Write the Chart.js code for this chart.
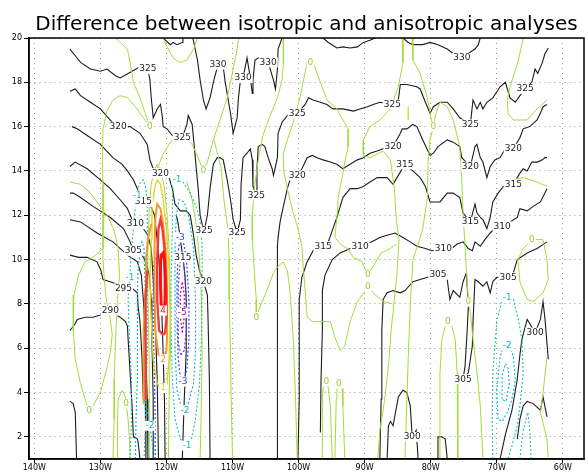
<!DOCTYPE html>
<html>
<head>
<meta charset="utf-8">
<script src="https://cdn.jsdelivr.net/npm/chart.js@4.4.1/dist/chart.umd.min.js"></script>
<style>
  html, body { margin: 0; padding: 0; background: #fff; }
  #wrap { width: 588px; height: 475px; }
</style>
</head>
<body>
<div id="wrap"><canvas id="diffChart"></canvas></div>
<script>
// 축 눈금 (경도 W, 위도)
const lonTicks = [-140, -130, -120, -110, -100, -90, -80, -70, -60];
const latTicks = [2, 4, 6, 8, 10, 12, 14, 16, 18, 20];

// 온위 등치선 (검정) [경도, 위도]
const th325 = [[-134.6,19.5],[-133.8,19.2],[-133.0,18.9],[-131.5,18.6],[-130.0,18.5],[-129.0,18.6],[-127.7,18.3],[-127.0,18.2],[-125.8,18.4],[-124.6,18.6],[-124.0,18.7],[-122.8,18.6],[-122.5,18.1],[-122.3,17.3],[-122.0,16.4],[-121.4,16.8],[-120.9,17.0],[-120.6,16.4],[-120.5,16.0],[-119.9,15.9],[-119.1,15.6],[-117.6,15.5],[-116.9,16.1],[-116.7,16.5],[-116.1,16.1],[-115.6,14.5],[-115.2,13.2],[-114.9,12.0],[-114.6,11.6],[-114.3,11.3],[-113.8,12.0],[-113.4,13.2],[-112.9,14.3],[-112.3,14.6],[-111.9,14.6],[-111.4,14.5],[-110.8,13.6],[-110.3,12.7],[-109.9,11.8],[-109.3,11.2],[-108.8,11.8],[-108.7,13.4],[-108.4,14.6],[-107.8,14.8],[-107.3,15.0],[-107.0,14.5],[-106.9,13.3],[-106.4,12.9],[-106.3,14.1],[-106.1,15.1],[-105.5,15.2],[-105.1,15.1],[-104.6,14.6],[-104.0,14.1],[-103.8,13.8],[-103.2,14.6],[-103.1,15.7],[-102.5,16.2],[-101.7,16.5],[-101.3,16.6],[-100.2,16.6],[-99.0,17.0],[-98.5,17.3],[-97.8,17.2],[-96.7,17.1],[-95.7,17.0],[-94.8,16.8],[-93.3,16.8],[-91.7,16.7],[-90.7,16.8],[-89.6,16.9],[-88.7,17.0],[-87.7,17.1],[-85.8,17.0],[-84.9,17.2],[-84.6,17.9],[-83.6,17.9],[-82.1,17.8],[-81.6,17.7],[-80.8,17.1],[-80.1,16.6],[-79.6,16.9],[-78.6,17.1],[-77.5,17.1],[-76.6,16.8],[-75.6,16.4],[-74.0,16.1],[-73.6,17.2],[-73.0,16.8],[-72.5,17.1],[-72.1,16.8],[-71.5,17.1],[-70.6,17.3],[-69.5,17.8],[-68.7,18.0],[-68.0,17.3],[-67.2,17.1],[-66.5,17.4],[-65.7,17.7],[-64.7,18.0],[-64.2,18.6],[-63.8,18.4],[-63.1,18.9],[-62.7,19.3],[-62.2,19.55]];
const th330a = [[-120.5,20.0],[-119.4,19.7],[-119.0,19.8],[-118.4,19.7],[-117.6,19.8],[-117.5,20.0]];
const th330b = [[-116.0,20.0],[-115.3,19.0],[-114.9,18.1],[-114.4,17.2],[-114.0,16.8],[-113.4,17.3],[-112.9,18.0],[-112.2,18.8],[-111.4,18.7],[-111.1,18.0],[-110.3,16.6],[-109.9,15.7],[-109.3,16.4],[-109.1,17.3],[-108.8,18.1],[-108.4,18.2],[-107.8,19.1],[-107.3,18.2],[-107.0,17.5],[-106.9,18.1],[-106.6,19.0],[-106.1,19.1],[-104.6,18.9],[-103.8,18.1],[-103.5,17.7],[-103.2,18.6],[-103.1,19.5],[-102.5,20.0]];
const th330c = [[-96.3,20.0],[-95.5,19.8],[-94.2,19.55],[-93.3,19.6],[-92.2,19.55],[-91.1,19.6],[-90.2,19.8],[-89.2,19.9],[-88.4,20.0]];
const th330d = [[-84.2,20.0],[-83.4,19.8],[-82.7,19.7],[-81.2,19.7],[-80.1,19.8],[-78.9,19.7],[-77.5,19.5],[-76.6,19.3],[-75.3,19.1],[-73.3,19.5],[-72.8,19.7],[-72.5,20.0]];
const th320a = [[-134.6,17.6],[-133.8,17.7],[-133.0,17.4],[-131.5,17.1],[-130.0,16.8],[-128.8,16.4],[-128.2,16.2],[-127.3,16.0],[-125.5,16.0],[-124.0,15.7],[-122.9,15.2],[-122.5,14.5],[-122.0,14.1],[-120.9,13.9],[-119.7,13.8],[-119.1,13.2],[-118.7,12.5],[-117.9,12.2],[-117.0,12.2],[-116.4,12.0],[-115.9,11.1],[-115.5,10.2],[-115.0,9.5],[-114.4,9.0],[-113.8,8.4],[-113.7,7.3],[-113.5,4.6],[-113.4,1.0]];
const th320b = [[-103.2,1.0],[-103.2,3.7],[-103.2,8.2],[-103.2,10.6],[-103.1,11.0],[-102.8,11.7],[-102.3,12.4],[-101.7,13.2],[-101.3,13.6],[-100.2,13.8],[-99.5,14.1],[-98.7,14.6],[-97.9,14.7],[-97.2,14.6],[-96.3,14.5],[-95.2,14.4],[-94.2,14.3],[-93.3,14.1],[-92.2,14.3],[-91.1,14.5],[-90.2,14.6],[-89.2,14.8],[-88.1,14.9],[-87.2,15.0],[-85.7,15.1],[-84.6,15.7],[-84.3,15.9],[-83.6,15.9],[-82.7,16.1],[-82.1,16.0],[-81.2,15.4],[-80.1,14.7],[-79.6,14.8],[-78.9,15.1],[-77.5,15.4],[-76.6,15.3],[-75.6,15.1],[-75.3,14.6],[-74.0,14.2],[-73.3,15.1],[-73.0,15.2],[-72.5,14.6],[-72.1,14.4],[-71.5,13.7],[-71.0,14.2],[-70.3,14.5],[-69.5,14.6],[-68.7,15.0],[-67.5,15.0],[-66.5,15.5],[-66.0,15.9],[-65.0,16.0],[-63.9,16.3],[-63.4,16.6],[-63.0,16.9],[-62.4,17.0]];
const th315a = [[-134.3,16.0],[-133.5,15.9],[-132.0,15.6],[-130.0,15.2],[-128.1,14.6],[-126.7,14.3],[-125.9,14.0],[-125.0,13.6],[-124.4,13.2],[-124.0,12.8],[-123.5,12.6],[-122.5,12.5],[-121.8,12.0],[-121.4,10.9],[-120.9,9.1],[-120.6,6.8],[-120.3,3.7],[-120.2,1.0]];
const th315b = [[-118.5,12.0],[-118.2,11.6],[-117.9,10.9],[-117.5,10.1],[-117.2,9.3],[-117.0,8.2],[-117.0,5.9],[-117.3,3.7],[-117.6,1.0]];
const th315c = [[-100.1,1.0],[-99.9,3.7],[-99.9,6.4],[-99.9,8.2],[-99.5,9.2],[-98.7,9.9],[-97.8,10.4],[-96.3,10.6],[-95.5,10.8],[-94.8,11.4],[-94.2,11.9],[-93.7,12.4],[-93.3,12.8],[-92.2,13.2],[-91.1,13.2],[-90.2,13.3],[-89.2,13.5],[-88.1,13.7],[-87.7,13.7],[-86.6,13.7],[-85.7,13.4],[-84.9,13.8],[-83.9,14.3],[-82.7,14.0],[-81.6,13.7],[-80.8,13.3],[-80.1,12.6],[-79.3,12.6],[-78.6,12.6],[-77.5,13.0],[-76.6,13.0],[-75.6,12.8],[-75.1,12.1],[-74.0,11.7],[-73.3,12.5],[-73.0,12.1],[-72.5,11.9],[-72.1,11.8],[-71.5,11.4],[-71.0,11.9],[-70.6,12.6],[-69.8,13.0],[-69.0,13.3],[-67.5,13.4],[-66.5,13.9],[-66.0,14.1],[-65.4,14.0],[-64.7,14.4],[-63.9,14.4],[-63.1,14.5],[-62.7,14.6],[-62.4,14.6]];
const th310a = [[-134.6,14.2],[-133.8,14.4],[-132.0,14.1],[-130.0,13.6],[-128.5,13.2],[-127.0,12.7],[-125.9,12.3],[-125.2,11.8],[-124.7,11.6],[-123.5,11.4],[-122.8,11.1],[-122.3,10.5],[-122.0,9.1],[-121.7,7.3],[-121.4,4.6],[-121.2,1.0]];
const th310b = [[-96.7,2.2],[-96.6,4.6],[-96.4,6.8],[-96.4,8.6],[-96.0,9.3],[-94.9,10.0],[-93.7,10.3],[-92.2,10.5],[-90.7,10.6],[-88.9,10.8],[-87.7,11.0],[-86.6,11.1],[-85.4,11.2],[-84.2,11.0],[-83.1,10.8],[-82.1,10.6],[-80.8,10.5],[-79.8,10.4],[-78.1,10.5],[-76.8,10.5],[-76.0,10.7],[-75.1,10.8],[-74.3,10.5],[-73.7,10.4],[-73.3,10.8],[-72.5,10.6],[-71.8,10.9],[-71.0,11.2],[-70.3,11.4],[-69.2,11.5],[-68.0,11.7],[-66.9,11.9],[-66.5,12.3],[-65.4,12.2],[-64.5,12.4],[-63.4,12.6],[-62.4,13.2]];
const th305a = [[-134.6,13.0],[-134.1,13.0],[-133.0,12.8],[-131.1,12.4],[-128.5,11.9],[-126.5,11.4],[-125.5,10.8],[-125.0,10.4],[-123.7,10.2],[-123.1,9.9],[-122.6,9.3],[-122.3,8.2],[-122.2,6.4],[-122.0,3.7],[-122.0,1.0]];
const th305b = [[-87.7,1.0],[-87.5,3.7],[-87.4,6.8],[-87.2,8.2],[-86.6,8.5],[-85.7,8.6],[-84.6,8.5],[-83.9,8.6],[-82.7,9.0],[-81.6,9.1],[-80.5,9.2],[-78.9,9.3],[-77.5,9.1],[-77.1,8.2],[-76.6,8.6],[-75.6,8.3],[-75.1,9.0],[-74.6,9.4],[-74.3,7.9],[-74.5,6.7],[-74.8,5.2],[-75.1,4.6],[-74.3,4.9],[-73.7,6.1],[-73.6,7.2],[-73.3,9.1],[-72.8,9.0],[-72.1,8.8],[-71.5,9.0],[-71.0,8.5],[-70.6,9.0],[-70.0,9.2],[-68.3,9.2],[-67.5,9.4],[-66.9,10.0],[-65.4,10.3],[-63.9,10.5],[-62.4,10.8]];
const th300a = [[-134.6,11.8],[-133.0,11.7],[-130.5,11.2],[-128.1,10.8],[-125.9,10.2],[-124.4,9.9],[-123.8,9.3],[-123.5,8.2],[-123.2,6.4],[-122.9,3.7],[-122.8,1.0]];
const th300b = [[-69.5,1.0],[-68.7,2.1],[-67.7,3.2],[-66.9,4.6],[-66.5,5.7],[-66.2,6.4],[-65.4,7.3],[-65.0,7.1],[-64.2,6.7],[-63.4,7.3],[-63.0,8.1],[-62.7,7.3],[-62.4,6.2],[-62.2,5.5]];
const th300c = [[-66.9,1.9],[-66.5,2.8],[-66.0,3.4],[-65.4,3.6],[-64.5,3.5],[-63.4,3.2],[-63.0,3.8],[-62.4,2.9]];
const th300d = [[-86.6,1.0],[-86.4,2.5],[-86.1,2.7],[-85.7,2.5],[-84.9,3.8],[-84.2,4.1],[-83.6,4.0],[-83.1,3.4],[-82.8,2.0],[-82.2,2.3],[-81.9,1.0]];
const th300e = [[-79.0,1.0],[-78.9,2.0],[-78.3,2.0],[-77.8,1.9],[-77.5,1.0]];
const th295 = [[-134.6,10.2],[-133.3,10.1],[-132.0,10.1],[-130.5,9.9],[-129.9,9.5],[-129.6,9.1],[-128.5,9.0],[-127.6,8.9],[-126.5,8.7],[-125.2,8.7],[-124.4,8.5],[-124.3,7.9],[-124.0,7.2],[-123.7,5.6],[-123.5,3.7],[-123.2,3.6],[-123.1,2.5],[-123.1,1.0]];
const th290 = [[-134.6,6.8],[-133.8,7.1],[-133.5,7.3],[-132.3,7.4],[-131.1,7.4],[-130.0,7.5],[-128.5,7.7],[-127.0,7.4],[-126.2,7.2],[-125.9,7.0],[-125.8,6.4],[-125.5,4.9],[-125.2,3.4],[-125.0,2.0],[-124.4,1.9],[-124.3,1.8],[-124.0,1.0]];
const th290b = [[-134.6,3.6],[-134.1,3.5],[-133.8,3.1],[-133.6,1.0]];

// 차이 0 등치선 (연두)
const zeroA = [[-127.7,20.0],[-127.0,19.8],[-125.9,19.5],[-125.5,18.9],[-125.0,18.0],[-124.0,17.3],[-123.2,16.6],[-122.5,16.0],[-123.5,16.4],[-124.7,16.9],[-125.9,17.3],[-127.0,17.4],[-128.1,17.2],[-129.0,16.7],[-129.6,15.9],[-129.7,14.5],[-129.6,13.4],[-129.6,12.3],[-129.6,11.4],[-129.6,10.5],[-131.1,10.1],[-132.3,9.9],[-133.3,9.3],[-134.0,8.4],[-134.1,6.8],[-133.8,5.5],[-133.0,4.4],[-132.1,3.5],[-131.7,3.2],[-131.1,3.4],[-130.0,4.0],[-129.1,5.0],[-128.5,5.8],[-128.2,6.6],[-128.5,7.3],[-129.1,8.2],[-129.4,9.1],[-129.6,10.0],[-129.6,10.5]];
const zeroB = [[-134.6,13.5],[-133.0,13.4],[-131.5,13.0],[-130.0,12.4],[-128.8,11.9],[-127.9,11.3],[-127.3,10.5],[-127.1,9.3],[-127.4,8.2],[-127.7,6.4],[-127.9,4.6],[-127.9,2.8],[-128.1,1.0]];
const zeroC = [[-127.4,1.0],[-127.4,2.8],[-127.3,3.7],[-126.7,4.1],[-126.2,3.8],[-126.1,3.5],[-125.8,2.8],[-125.6,1.9],[-125.5,1.0]];
const zeroD = [[-121.4,14.1],[-120.6,14.7],[-119.4,15.3],[-118.4,15.5],[-117.2,15.5],[-116.1,15.2],[-115.2,14.6],[-114.4,14.0],[-113.8,14.4],[-112.9,15.4],[-111.9,16.3],[-110.8,17.3],[-109.9,18.6],[-109.3,19.5],[-109.1,20.0]];
const zeroE = [[-112.8,15.4],[-112.2,14.7],[-111.7,14.1],[-111.3,12.7],[-110.7,11.4],[-110.5,10.0],[-110.5,8.2],[-110.3,5.9],[-110.2,3.7],[-110.0,1.0]];
const zeroF = [[-102.3,20.0],[-102.3,18.8],[-102.5,18.1],[-103.2,17.3],[-104.3,16.5],[-105.4,15.6],[-106.1,14.5],[-106.7,13.2],[-107.0,12.0],[-107.0,10.9],[-106.7,9.5],[-106.4,8.2],[-106.4,7.4],[-105.8,7.9],[-104.8,8.6],[-103.8,9.4],[-103.1,9.7],[-102.3,9.9],[-101.7,9.5],[-101.3,8.6],[-100.8,6.4],[-100.5,4.1],[-100.2,1.0]];
const zeroG = [[-120.5,20.0],[-119.9,19.6],[-119.0,19.1],[-117.9,18.9],[-116.9,19.0],[-115.9,19.5],[-115.3,20.0]];
const zeroH = [[-89.5,8.8],[-89.9,8.6],[-91.1,8.1],[-92.2,7.2],[-93.0,6.1],[-93.7,5.9],[-94.5,6.5],[-95.2,7.2],[-96.3,7.2],[-97.9,7.2],[-98.7,7.4],[-99.0,8.6],[-99.3,9.7],[-99.5,10.6],[-100.1,11.4],[-100.8,12.1],[-101.7,13.2],[-102.3,14.1],[-102.3,14.8],[-101.7,15.4],[-100.8,16.2],[-99.8,17.3],[-98.7,18.9],[-98.2,18.9],[-97.8,18.9],[-96.7,18.0],[-95.7,17.2],[-94.2,16.8],[-93.3,16.3],[-92.5,15.9],[-92.5,15.1],[-93.0,14.4],[-93.4,13.7],[-94.0,12.8],[-94.2,11.9],[-94.5,11.0],[-93.7,10.7],[-92.6,10.5],[-91.7,10.1],[-90.4,9.9],[-89.5,9.3]];
const zeroI = [[-89.5,9.3],[-88.7,9.7],[-87.5,10.3],[-86.1,10.5],[-85.2,10.7]];
const zeroJ = [[-89.5,8.8],[-88.4,8.4],[-87.1,8.1],[-85.8,8.0]];
const zeroK = [[-82.8,20.0],[-82.7,19.0],[-81.6,18.4],[-80.5,17.3],[-79.9,16.3],[-79.6,16.0],[-80.1,15.4],[-80.4,14.4],[-80.5,12.8],[-81.2,11.4],[-81.9,10.7],[-82.7,10.0],[-83.1,7.9],[-83.4,5.6],[-83.6,3.7],[-83.9,1.0]];
const zeroL = [[-84.3,20.0],[-84.2,18.9],[-84.9,17.8],[-86.1,16.8],[-87.7,16.3],[-89.2,16.0],[-90.2,15.4],[-90.2,14.7],[-89.2,14.6],[-87.2,14.9],[-86.1,14.5],[-85.5,13.2],[-85.2,11.8],[-84.8,10.9],[-85.1,9.4],[-85.5,8.2],[-86.0,6.8],[-86.3,5.5],[-86.8,4.1],[-87.2,3.2],[-87.7,2.3],[-88.0,1.0]];
const zeroM = [[-79.6,16.0],[-79.2,16.6],[-78.6,17.1],[-77.5,16.9],[-76.6,16.3],[-75.6,15.1],[-75.3,13.6],[-75.1,12.1],[-74.8,10.6],[-74.6,9.5],[-74.3,8.1],[-74.0,7.6],[-73.6,6.4],[-73.0,4.9],[-72.5,3.4],[-72.1,1.0]];
const zeroN = [[-78.6,1.0],[-78.6,4.9],[-78.3,6.4],[-77.8,7.0],[-77.4,7.2],[-76.8,7.0],[-76.3,6.4],[-76.0,4.9],[-75.9,1.0]];
const zeroO = [[-66.0,20.0],[-66.8,18.9],[-68.0,17.8],[-68.4,17.2],[-68.3,16.6],[-67.5,16.3],[-65.4,16.3],[-63.9,16.8],[-62.4,17.2]];
const zeroP = [[-68.0,13.2],[-67.5,13.6],[-66.0,13.7],[-63.9,13.5],[-62.4,13.3]];
const zeroQ = [[-66.0,10.5],[-64.7,10.9],[-63.0,10.9],[-62.4,10.0],[-62.2,9.1],[-63.0,8.5],[-64.5,8.1],[-65.4,8.2],[-66.5,9.0],[-66.8,10.0],[-66.0,10.5]];
const zeroR = [[-62.4,5.6],[-63.0,4.0],[-63.4,3.1],[-62.4,1.9],[-62.2,1.0]];
const zeroS = [[-96.4,1.0],[-96.4,3.7],[-96.3,4.2],[-95.8,4.5],[-95.5,4.2],[-95.2,3.4],[-94.9,1.0]];
const zeroT = [[-94.5,1.0],[-94.3,3.7],[-94.2,4.2],[-93.9,4.4],[-93.4,4.2],[-93.3,3.4],[-93.0,1.0]];
const zeroU = [[-122.6,1.0],[-122.6,3.2],[-122.6,5.5],[-122.8,8.2],[-122.8,10.5],[-122.6,12.3],[-122.3,13.4],[-121.8,14.1],[-121.4,14.3],[-120.8,14.0],[-120.3,13.2],[-119.9,12.0],[-119.6,10.5],[-119.4,8.2],[-119.4,5.9],[-119.6,3.7],[-119.7,1.0]];
const zeroV = [[-114.9,1.0],[-114.7,3.7],[-114.6,5.9],[-114.7,8.2],[-115.0,10.0],[-115.5,11.6],[-116.1,12.7],[-116.9,13.5]];

// 양의 차이 (1, 2, 3, 4)
const pos1 = [[-120.5,4.1],[-121.4,4.4],[-122.0,5.5],[-122.3,7.3],[-122.5,9.1],[-122.3,10.9],[-122.2,12.3],[-121.8,13.2],[-121.4,13.6],[-120.9,13.4],[-120.5,12.7],[-120.0,11.4],[-119.6,9.5],[-119.4,7.3],[-119.6,5.5],[-119.9,4.4],[-120.5,4.1]];
const pos1b = [[-83.4,16.9],[-83.4,16.3]];
const pos2 = [[-120.5,5.5],[-121.2,5.7],[-121.7,6.8],[-121.8,8.6],[-121.8,10.5],[-121.7,11.8],[-121.4,12.5],[-120.9,12.3],[-120.5,11.6],[-120.0,10.0],[-119.9,8.2],[-119.9,6.6],[-120.0,5.9],[-120.5,5.5]];
const pos2b = [[-123.5,3.5],[-123.5,5.0],[-123.4,6.8],[-123.2,8.6],[-123.1,10.0],[-122.8,10.9],[-122.3,11.6]];
const pos3 = [[-120.5,6.6],[-121.1,6.8],[-121.4,8.2],[-121.4,10.0],[-121.2,11.4],[-120.9,11.8],[-120.6,11.4],[-120.3,10.5],[-120.0,8.6],[-120.0,7.3],[-120.2,6.7],[-120.5,6.6]];
const pos3b = [[-123.2,3.7],[-123.2,5.9],[-123.1,8.2],[-122.9,9.5]];
const pos4 = [[-120.5,7.7],[-120.8,8.0],[-120.9,8.9],[-120.9,9.8],[-120.8,10.2],[-120.5,10.3],[-120.3,10.0],[-120.2,9.1],[-120.2,8.2],[-120.3,7.8],[-120.5,7.7]];

// 음의 차이 (-1 ... -5)
const neg1a = [[-125.5,1.0],[-125.3,2.8],[-125.3,4.6],[-125.6,6.4],[-125.8,8.2],[-125.5,9.5],[-125.2,10.7],[-124.9,11.8],[-124.6,12.7],[-124.1,13.4],[-123.5,13.6],[-123.1,13.2],[-122.9,12.3],[-122.9,10.5],[-122.9,8.2],[-122.9,5.9],[-123.1,3.7],[-123.2,2.3],[-123.4,1.0]];
const neg1b = [[-116.9,1.6],[-117.9,1.9],[-118.7,2.8],[-119.1,4.6],[-119.3,6.8],[-119.3,9.1],[-119.1,11.4],[-119.1,12.7],[-119.0,13.4],[-118.4,13.7],[-117.5,13.5],[-116.4,13.0],[-115.5,12.4],[-114.9,11.7],[-114.6,10.7],[-114.6,8.6],[-114.7,6.4],[-115.0,4.4],[-115.6,2.8],[-116.2,1.9],[-116.9,1.6]];
const neg1c = [[-70.6,1.0],[-70.7,2.6],[-70.6,4.9],[-70.0,7.2],[-69.2,8.2],[-68.4,8.3],[-67.5,8.2],[-66.8,7.4],[-66.2,6.4],[-66.0,4.9],[-66.5,3.4],[-66.9,2.5],[-67.7,1.6],[-68.3,1.0]];
const neg1d = [[-66.5,1.0],[-66.0,2.3],[-65.3,3.1],[-65.0,2.3],[-64.8,1.0]];
const neg2a = [[-124.7,1.0],[-124.6,2.8],[-124.4,4.6],[-124.4,6.4],[-124.4,8.2],[-124.3,9.5],[-124.0,10.5],[-123.7,10.8],[-123.4,10.5],[-123.2,8.6],[-123.2,6.4],[-123.2,4.1],[-122.9,3.1],[-122.5,2.5],[-122.2,1.9],[-122.0,1.0]];
const neg2b = [[-117.2,3.2],[-117.9,3.5],[-118.4,4.1],[-118.7,5.9],[-118.7,8.2],[-118.7,10.5],[-118.5,12.0],[-118.1,12.7],[-117.3,12.6],[-116.6,11.9],[-115.9,10.5],[-115.6,8.2],[-115.6,5.9],[-115.9,4.4],[-116.6,3.6],[-117.2,3.2]];
const neg2c = [[-69.8,2.8],[-70.0,4.1],[-69.5,5.6],[-69.0,6.1],[-68.4,6.1],[-68.0,6.1],[-67.5,5.6],[-67.2,4.6],[-67.7,3.7],[-68.4,3.1],[-69.2,2.7],[-69.8,2.8]];
const neg2d = [[-69.2,3.7],[-69.2,4.8],[-68.7,5.3],[-68.3,5.1],[-68.1,4.4],[-68.6,3.6],[-69.2,3.7]];
const neg3a = [[-121.7,1.0],[-121.7,2.8],[-121.8,4.6],[-122.0,6.8],[-122.0,8.6],[-122.0,9.6],[-121.7,10.1]];
const neg3b = [[-117.5,4.5],[-117.9,4.7],[-118.2,5.5],[-118.4,7.3],[-118.4,9.1],[-118.2,10.4],[-117.9,11.0],[-117.5,10.9],[-117.0,10.1],[-116.6,8.2],[-116.6,6.4],[-116.9,5.1],[-117.2,4.7],[-117.5,4.5]];
const neg4 = [[-117.8,5.7],[-118.2,6.2],[-118.2,7.3],[-118.2,8.9],[-117.9,10.0],[-117.6,10.2],[-117.3,9.6],[-117.0,8.2],[-117.0,6.8],[-117.3,5.9],[-117.8,5.7]];
const neg5 = [[-117.6,6.7],[-117.9,7.4],[-117.9,8.4],[-117.6,9.0],[-117.3,8.4],[-117.3,7.4],[-117.6,6.7]];

// 등치선 라벨 [경도, 위도, 값]
const thetaLabels = [
  [-122.8,18.6,'325'],[-117.6,15.5,'325'],[-114.3,11.3,'325'],[-109.3,11.2,'325'],[-106.4,12.9,'325'],
  [-100.2,16.6,'325'],[-85.8,17.0,'325'],[-74.0,16.1,'325'],[-65.7,17.7,'325'],
  [-112.2,18.8,'330'],[-108.4,18.2,'330'],[-104.6,18.9,'330'],[-75.3,19.1,'330'],
  [-127.3,16.0,'320'],[-120.9,13.9,'320'],[-114.4,9.0,'320'],[-100.2,13.8,'320'],[-85.7,15.1,'320'],
  [-74.0,14.2,'320'],[-67.5,15.0,'320'],
  [-123.5,12.6,'315'],[-117.5,10.1,'315'],[-96.3,10.6,'315'],[-83.9,14.3,'315'],[-74.0,11.7,'315'],[-67.5,13.4,'315'],
  [-124.7,11.6,'310'],[-90.7,10.6,'310'],[-78.1,10.5,'310'],[-69.2,11.5,'310'],
  [-125.0,10.4,'305'],[-78.9,9.3,'305'],[-75.1,4.6,'305'],[-68.3,9.2,'305'],
  [-64.2,6.7,'300'],[-82.8,2.0,'300'],
  [-126.5,8.7,'295'],[-128.5,7.7,'290']
];
const zeroLabels = [
  [-122.5,16.0],[-131.7,3.2],[-126.1,3.5],[-114.4,14.0],[-106.4,7.4],[-98.2,18.9],[-89.5,9.3],[-89.5,8.8],
  [-95.8,4.5],[-93.9,4.4],[-79.6,16.0],[-74.3,8.1],[-77.4,7.2],[-64.7,10.9]
];
const diffLabels = [
  [-125.5,9.2,'-1'],[-124.4,12.9,'-1'],[-118.4,13.6,'-1'],[-116.9,1.6,'-1'],[-68.4,8.3,'-1'],
  [-122.5,2.5,'-2'],[-117.2,3.2,'-2'],[-68.4,6.1,'-2'],
  [-117.9,11.0,'-3'],[-117.5,4.5,'-3'],[-117.6,7.6,'-5'],
  [-120.5,4.2,'1'],[-120.5,5.5,'2'],[-120.5,7.7,'4']
];

// 색상
const colBlack = '#1c1c1c';
const colZero = '#a6da3a';
const diffColors = {
  '-5': '#a000c8', '-4': '#7a2ee0', '-3': '#2a46ff', '-2': '#00b2d8', '-1': '#12c6aa',
  '1': '#e2d42a', '2': '#f29a2a', '3': '#f23c3c', '4': '#ff1010'
};

function line(points, color, width, dash) {
  return {
    data: points.map(p => ({ x: p[0], y: p[1] })),
    borderColor: color,
    borderWidth: width,
    borderDash: dash || [],
    showLine: true,
    pointRadius: 0,
    pointHoverRadius: 0,
    fill: false,
    tension: 0
  };
}

const dotted = [2, 2];
const datasets = [];
// 색 등치선 (맨 위)
[pos4].forEach(p => datasets.push(line(p, diffColors['4'], 3)));
[pos3, pos3b].forEach(p => datasets.push(line(p, diffColors['3'], 2.4)));
[pos2, pos2b].forEach(p => datasets.push(line(p, diffColors['2'], 2)));
[pos1, pos1b].forEach(p => datasets.push(line(p, diffColors['1'], 1.4)));
[neg5].forEach(p => datasets.push(line(p, diffColors['-5'], 1.2, dotted)));
[neg4].forEach(p => datasets.push(line(p, diffColors['-4'], 1.2, dotted)));
[neg3a, neg3b].forEach(p => datasets.push(line(p, diffColors['-3'], 1.2, dotted)));
[neg2a, neg2b, neg2c, neg2d].forEach(p => datasets.push(line(p, diffColors['-2'], 1.1, dotted)));
[neg1a, neg1b, neg1c, neg1d].forEach(p => datasets.push(line(p, diffColors['-1'], 1.1, dotted)));
// 0 등치선
[zeroA, zeroB, zeroC, zeroD, zeroE, zeroF, zeroG, zeroH, zeroI, zeroJ, zeroK, zeroL, zeroM, zeroN,
 zeroO, zeroP, zeroQ, zeroR, zeroS, zeroT, zeroU, zeroV].forEach(p => datasets.push(line(p, colZero, 1)));
// 온위 (맨 아래)
[th325, th330a, th330b, th330c, th330d, th320a, th320b, th315a, th315b, th315c, th310a, th310b,
 th305a, th305b, th300a, th300b, th300c, th300d, th300e, th295, th290, th290b]
  .forEach(p => datasets.push(line(p, colBlack, 1.1)));

// 라벨과 테두리
const contourLabels = {
  id: 'contourLabels',
  afterDatasetsDraw(chart) {
    const { ctx, chartArea, scales: { x, y } } = chart;
    ctx.save();
    ctx.beginPath();
    ctx.rect(chartArea.left, chartArea.top, chartArea.right - chartArea.left, chartArea.bottom - chartArea.top);
    ctx.clip();
    ctx.font = '9px "DejaVu Sans", sans-serif';
    ctx.textAlign = 'center';
    ctx.textBaseline = 'middle';
    const put = (lon, lat, text, color) => {
      const px = x.getPixelForValue(lon);
      const py = y.getPixelForValue(lat);
      const w = ctx.measureText(text).width;
      ctx.fillStyle = '#fff';
      ctx.fillRect(px - w / 2 - 1, py - 5, w + 2, 10);
      ctx.fillStyle = color;
      ctx.fillText(text, px, py);
    };
    thetaLabels.forEach(l => put(l[0], l[1], l[2], colBlack));
    zeroLabels.forEach(l => put(l[0], l[1], '0', '#98cc2a'));
    diffLabels.forEach(l => put(l[0], l[1], l[2], diffColors[l[2]]));
    ctx.restore();
  },
  afterDraw(chart) {
    const { ctx, chartArea } = chart;
    ctx.save();
    ctx.strokeStyle = '#000';
    ctx.lineWidth = 1.5;
    ctx.strokeRect(chartArea.left, chartArea.top, chartArea.right - chartArea.left, chartArea.bottom - chartArea.top);
    ctx.restore();
  }
};

new Chart(document.getElementById('diffChart'), {
  type: 'scatter',
  data: { datasets: datasets },
  options: {
    responsive: true,
    maintainAspectRatio: false,
    animation: false,
    events: [],
    layout: { padding: { left: 0, right: 4, top: 0, bottom: 0 } },
    plugins: {
      legend: { display: false },
      tooltip: { enabled: false },
      title: {
        display: true,
        fullSize: false,
        text: 'Difference between isotropic and anisotropic analyses',
        color: '#000',
        font: { family: '"DejaVu Sans", sans-serif', size: 20, weight: 'normal', lineHeight: '24px' },
        padding: { top: 13, bottom: 1 }
      }
    },
    scales: {
      x: {
        type: 'linear',
        min: -140.8,
        max: -56.8,
        afterBuildTicks: (axis) => { axis.ticks = lonTicks.map(v => ({ value: v })); },
        afterFit: (axis) => { axis.height = 16; },
        ticks: {
          color: '#000',
          padding: 0,
          font: { family: '"DejaVu Sans", sans-serif', size: 8 },
          maxRotation: 0,
          callback: (v) => Math.abs(v) + 'W'
        },
        grid: { color: '#969696', lineWidth: 1, tickLength: 4, tickColor: '#000', tickBorderDash: [] },
        border: { display: true, color: '#000', width: 1.5, dash: [1, 4] }
      },
      y: {
        type: 'linear',
        min: 1,
        max: 20,
        afterBuildTicks: (axis) => { axis.ticks = latTicks.map(v => ({ value: v })); },
        afterFit: (axis) => { axis.width = 29; },
        ticks: {
          color: '#000',
          padding: 2,
          font: { family: '"DejaVu Sans", sans-serif', size: 8 }
        },
        grid: { color: '#969696', lineWidth: 1, tickLength: 5, tickColor: '#000', tickBorderDash: [] },
        border: { display: true, color: '#000', width: 1.5, dash: [1, 4] }
      }
    }
  },
  plugins: [contourLabels]
});
</script>
</body>
</html>
